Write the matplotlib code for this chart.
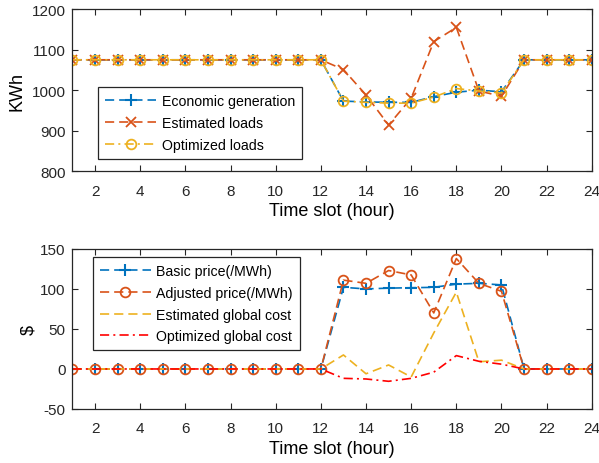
import matplotlib
matplotlib.use("Agg")
import matplotlib.pyplot as plt
import numpy as np

plt.rcParams['font.family'] = ['Liberation Sans', 'DejaVu Sans']
plt.rcParams['axes.unicode_minus'] = False

hours = list(range(1, 25))

economic_generation = [1075]*12 + [973, 971, 970, 970, 984, 995, 1000, 996] + [1075]*4
estimated_loads     = [1075]*12 + [1051, 988, 914, 980, 1120, 1155, 998, 985] + [1075]*4
optimized_loads     = [1075]*12 + [973, 970, 968, 968, 983, 1004, 998, 993] + [1075]*4

basic_price    = [0]*12 + [102, 100, 101, 101.5, 102, 106, 107, 105] + [0]*4
adjusted_price = [0]*12 + [111, 107, 123, 117.5, 70, 138, 107, 97] + [0]*4
est_global     = [0]*12 + [17.5, -6, 5, -10, 45, 96, 9, 11] + [0]*4
opt_global     = [0]*12 + [-11.7, -12.5, -15.4, -11.7, -4, 16.7, 9.6, 6] + [0]*4

blue = '#0072BD'
orange = '#D95319'
yellow = '#EDB120'
red = '#FF0000'

fig = plt.figure(figsize=(5.99, 4.64), dpi=100)
ax1 = fig.add_axes([0.121, 0.629, 0.867, 0.349])
ax2 = fig.add_axes([0.121, 0.1164, 0.867, 0.345])

lw = 1.2
dash = (0, (5.5, 3))
dashdot = (0, (5.5, 2.5, 1.2, 2.5))

ax1.plot(hours, economic_generation, color=blue, linestyle=dash, lw=lw, marker='+', ms=8, mew=1.5, label='Economic generation')
ax1.plot(hours, estimated_loads, color=orange, linestyle=dash, lw=lw, marker='x', ms=7, mew=1.3, label='Estimated loads')
ax1.plot(hours, optimized_loads, color=yellow, linestyle=dashdot, lw=lw, marker='o', ms=7, mew=1.3, mfc='none', label='Optimized loads')
ax1.set_ylim(800, 1200)
ax1.set_yticks([800, 900, 1000, 1100, 1200])
ax1.set_ylabel('KWh', fontsize=13, labelpad=4)

ax2.plot(hours, basic_price, color=blue, linestyle=dash, lw=lw, marker='+', ms=9, mew=1.5, label='Basic price(/MWh)')
ax2.plot(hours, adjusted_price, color=orange, linestyle=dash, lw=lw, marker='o', ms=7, mew=1.3, mfc='none', label='Adjusted price(/MWh)')
ax2.plot(hours, est_global, color=yellow, linestyle=dash, lw=lw, label='Estimated global cost')
ax2.plot(hours, opt_global, color=red, linestyle=dashdot, lw=lw, label='Optimized global cost')
ax2.set_ylim(-50, 150)
ax2.set_yticks([-50, 0, 50, 100, 150])
ax2.set_ylabel('$', fontsize=13, labelpad=2)

for ax in (ax1, ax2):
    ax.set_xlim(1, 24)
    ax.set_xticks(range(2, 25, 2))
    ax.set_xlabel('Time slot (hour)', fontsize=13, labelpad=3)
    ax.tick_params(direction='in', top=True, right=True, labelsize=11, length=4, width=0.8, colors='#262626')
    ax.tick_params(axis='x', pad=9)
    ax.tick_params(axis='y', pad=5)
    for sp in ax.spines.values():
        sp.set_linewidth(0.9)
        sp.set_color('#262626')

leg_kw = dict(fontsize=10.2, fancybox=False, edgecolor='#262626', framealpha=1, handlelength=3.6,
              numpoints=1, borderpad=0.5, labelspacing=0.55, handletextpad=0.4, borderaxespad=0)
l1 = ax1.legend(loc='upper left', bbox_to_anchor=(0.049, 0.519), **leg_kw)
l2 = ax2.legend(loc='upper left', bbox_to_anchor=(0.039, 0.95), **leg_kw)
for l in (l1, l2):
    l.get_frame().set_linewidth(0.9)

fig.savefig('out.png', dpi=100)
